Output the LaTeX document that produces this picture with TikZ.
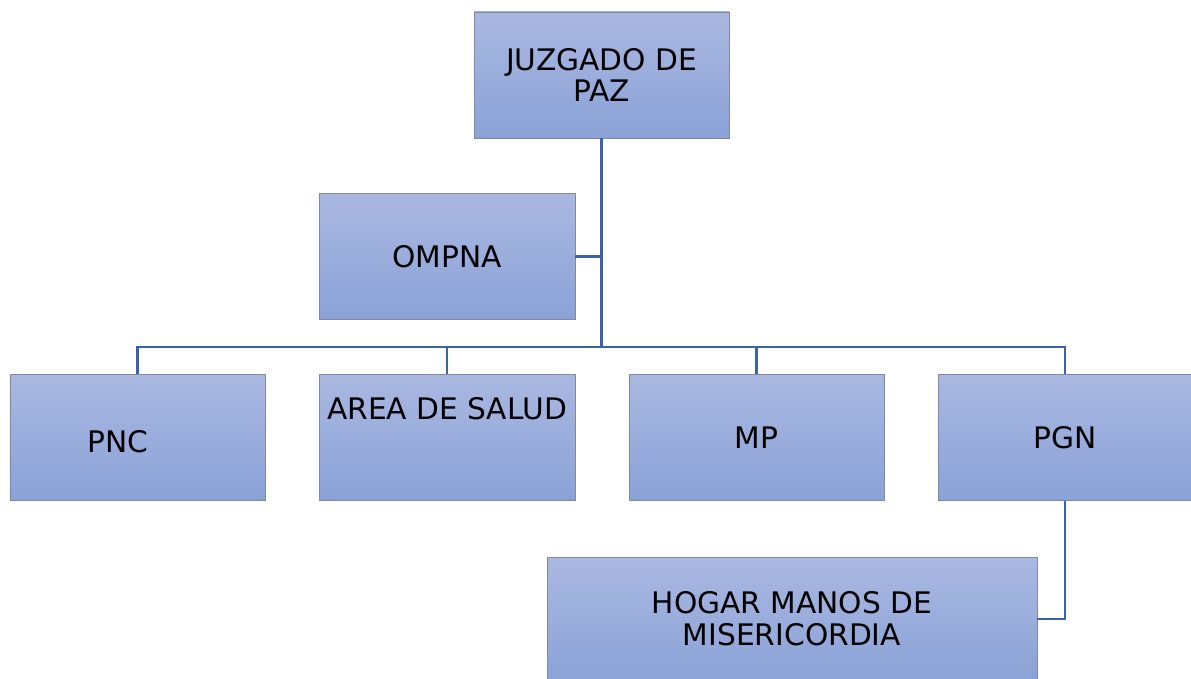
\documentclass[tikz,border=0pt]{standalone}
\usepackage{fontspec}
\setmainfont{DejaVu Sans}
\definecolor{boxtop}{HTML}{AAB8E1}
\definecolor{boxbot}{HTML}{8AA2D7}
\definecolor{boxline}{HTML}{7F8AA0}
\definecolor{conncol}{HTML}{3C62AA}
\begin{document}
\begin{tikzpicture}[x=1bp,y=-1bp,
  box/.style={draw=boxline, line width=0.9bp, top color=boxtop, bottom color=boxbot,
    minimum width=255bp, minimum height=126bp, inner sep=0pt, align=center,
    font=\fontsize{29.8}{32}\selectfont},
  lbl/.style={inner sep=0pt, align=center, font=\fontsize{29.8}{32}\selectfont},
  conn/.style={draw=conncol, line width=2.4bp}]
\useasboundingbox (0,0) rectangle (1191,679);
\node[box] (juz) at (601.5,75) {JUZGADO DE\\PAZ};
\node[box, minimum width=256bp] (omp) at (447,256.5) {OMPNA};
\node[box] (pnc) at (137.5,437.5) {};
\node[lbl] (pnct) at (118,442) {PNC};
\node[box, minimum width=256bp] (area) at (447,437.5) {};
\node[lbl] (areat) at (447,409) {AREA DE SALUD};
\node[box] (mp) at (756.5,437.5) {MP};
\node[box, minimum width=254bp] (pgn) at (1065,437.5) {PGN};
\node[box, minimum width=490bp, minimum height=124bp] (hog) at (792,619) {HOGAR MANOS DE\\MISERICORDIA};
\coordinate (bus) at (601.5,347);
\draw[conn] (juz.south) -- (bus);
\draw[conn] (omp.east) -- (omp.east -| bus);
\draw[conn] (pnc.north) |- (bus);
\draw[conn] (pgn.north) |- (bus);
\draw[conn] (area.north) -- (area.north |- bus);
\draw[conn] (mp.north) -- (mp.north |- bus);
\draw[conn] (pgn.south) |- (hog.east);
\end{tikzpicture}
\end{document}
